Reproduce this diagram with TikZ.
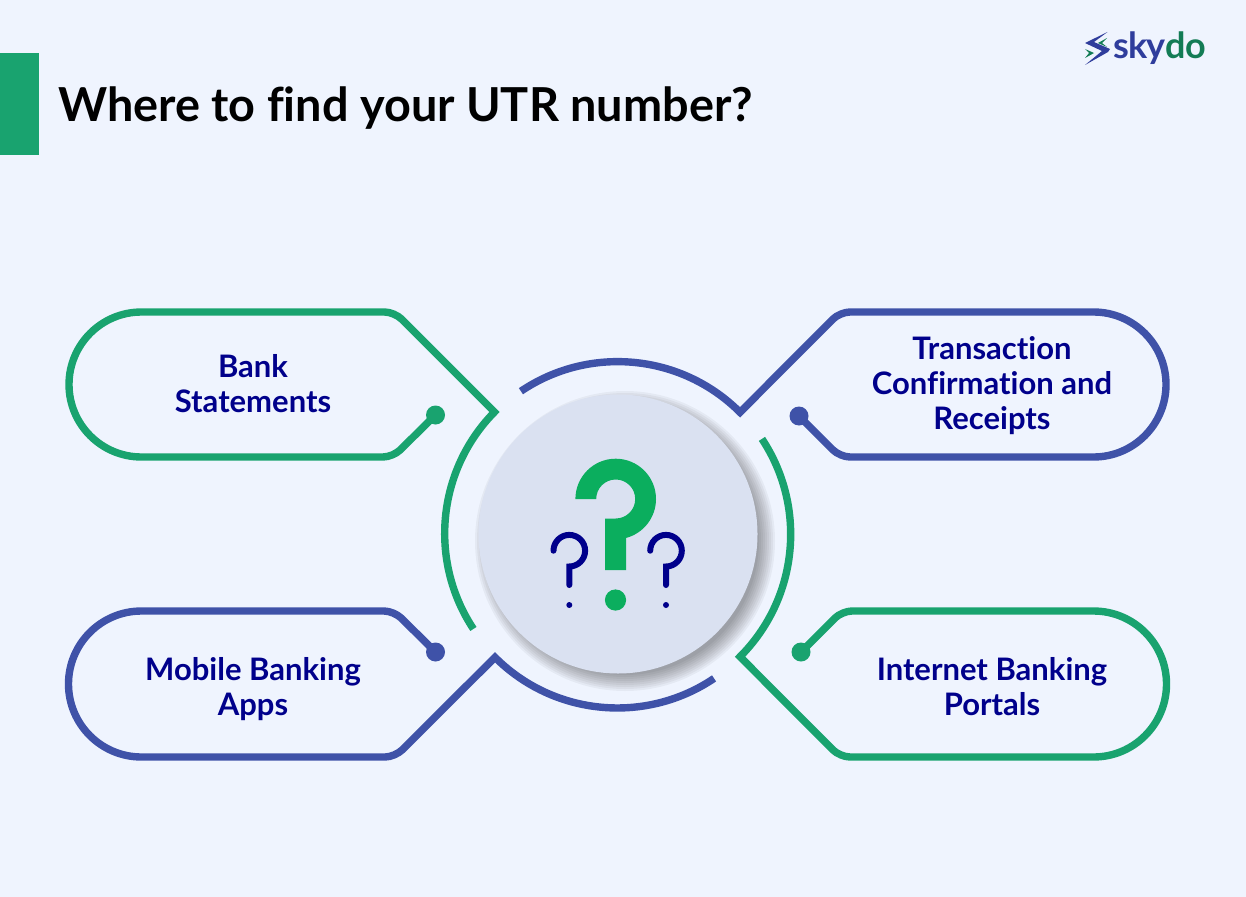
\documentclass[tikz,border=0pt]{standalone}
\usepackage{fontspec}
\setmainfont[Ligatures=NoCommon]{Lato}
\usepackage{xcolor}
\definecolor{pageBg}{HTML}{EFF4FE}
\definecolor{discBg}{HTML}{DAE1F1}
\definecolor{lineGreen}{HTML}{19A36F}
\definecolor{lineBlue}{HTML}{3F52A8}
\definecolor{markGreen}{HTML}{0BAE5E}
\definecolor{labelNavy}{HTML}{00008B}
\definecolor{logoBlue}{HTML}{2F3D9C}
\definecolor{logoGreen}{HTML}{137C55}

\begin{document}
\begin{tikzpicture}[x=1pt, y=-1pt,
	outline/.style={line width=7.4pt, line join=miter, miter limit=10},
	endDot/.style={circle, inner sep=0pt, minimum size=19pt},
	label/.style={font=\fontsize{31}{35}\selectfont\bfseries, text=labelNavy, align=center, inner sep=0pt}]
	\useasboundingbox (0,0) rectangle (1246,896);
	\fill[pageBg] (-2,-2) rectangle (1248,898);
	\fill[lineGreen] (0,53) rectangle (39,155);
	\node[anchor=base west, inner sep=0pt, font=\fontsize{46.8}{50}\selectfont\bfseries] (title) at (58,122) {Where to find your UTR number?};

	% logo
	\node[anchor=base west, inner sep=0pt, font=\fontsize{36}{36}\selectfont\bfseries\addfontfeature{LetterSpace=-2.5}] (logo) at (1113,59) {\textcolor{logoBlue}{sky}\textcolor{logoGreen}{do}};
	\fill[logoBlue] (1107.5,32) -- (1085,43) -- (1102,51) -- (1085,65) -- (1108,52) -- (1110,49) -- (1094,42) -- cycle;
	\fill[logoGreen] (1107,38) -- (1098,43) -- (1107,47) -- (1102,43) -- cycle;
	\fill[logoGreen] (1085,49) -- (1094,53) -- (1085,58) -- (1089,53) -- cycle;

	% disc
	\foreach \r in {150,148,...,134}
	{
		\fill[black, opacity=0.045] (625,541) circle (\r);
	}
	\fill[discBg] (618,534) circle (139.5);

	\coordinate (tipBank) at (494.5,412);
	\coordinate (tipTrans) at (740,412.3);
	\coordinate (tipApps) at (495,657.3);
	\coordinate (tipPortal) at (740,656.7);

	\foreach \name/\x/\y/\col in {dotBank/435.5/415/lineGreen, dotTrans/799/416/lineBlue, dotApps/435.5/652/lineBlue, dotPortal/801/652/lineGreen}
	{
		\node[endDot, fill=\col] (\name) at (\x,\y) {};
	}

	\draw[outline, lineGreen] (dotBank.center) [rounded corners=10pt] -- (393,457) [sharp corners] -- (141.5,457) arc (90:270:72.5) [rounded corners=10pt] -- (394.5,312) [sharp corners] -- (tipBank) arc (224.6:146.5:173);
	\draw[outline, lineBlue] (dotTrans.center) [rounded corners=10pt] -- (840,457) [sharp corners] -- (1093.5,457) arc (90:-90:72.5) [rounded corners=10pt] -- (840,312) [sharp corners] -- (tipTrans) arc (-45:-124:173);
	\draw[outline, lineBlue] (dotApps.center) [rounded corners=10pt] -- (394,611) [sharp corners] -- (141.5,611) arc (270:90:73) [rounded corners=10pt] -- (395,757) [sharp corners] -- (tipApps) arc (135:56:173);
	\draw[outline, lineGreen] (dotPortal.center) [rounded corners=10pt] -- (842,611) [sharp corners] -- (1093.5,611) arc (-90:90:73) [rounded corners=10pt] -- (840,757) [sharp corners] -- (tipPortal) arc (45:-33.5:173);

	\node[label] (bank) at (253,384) {Bank\\Statements};
	\node[label] (trans) at (992,386) {Transaction\\Confirmation and\\Receipts};
	\node[label] (apps) at (253,689) {Mobile Banking\\Apps};
	\node[label] (portal) at (992,687) {Internet Banking\\Portals};

	% question marks
	\fill[markGreen] (575.4,499) arc (180:435:40.3) -- (626,570) -- (605,570) -- (605,518.5) -- (615.7,518.5) arc (90:-180:19.5) -- cycle;
	\fill[markGreen] (615.5,600) circle (10.6);
	\foreach \x in {569.3,666}
	{
		\draw[labelNavy, line width=6pt, line cap=round] (\x-15.8,550.7) arc (180:450:15.8) -- (\x,585);
		\fill[labelNavy] (\x,605) circle (3);
	}
\end{tikzpicture}
\end{document}
